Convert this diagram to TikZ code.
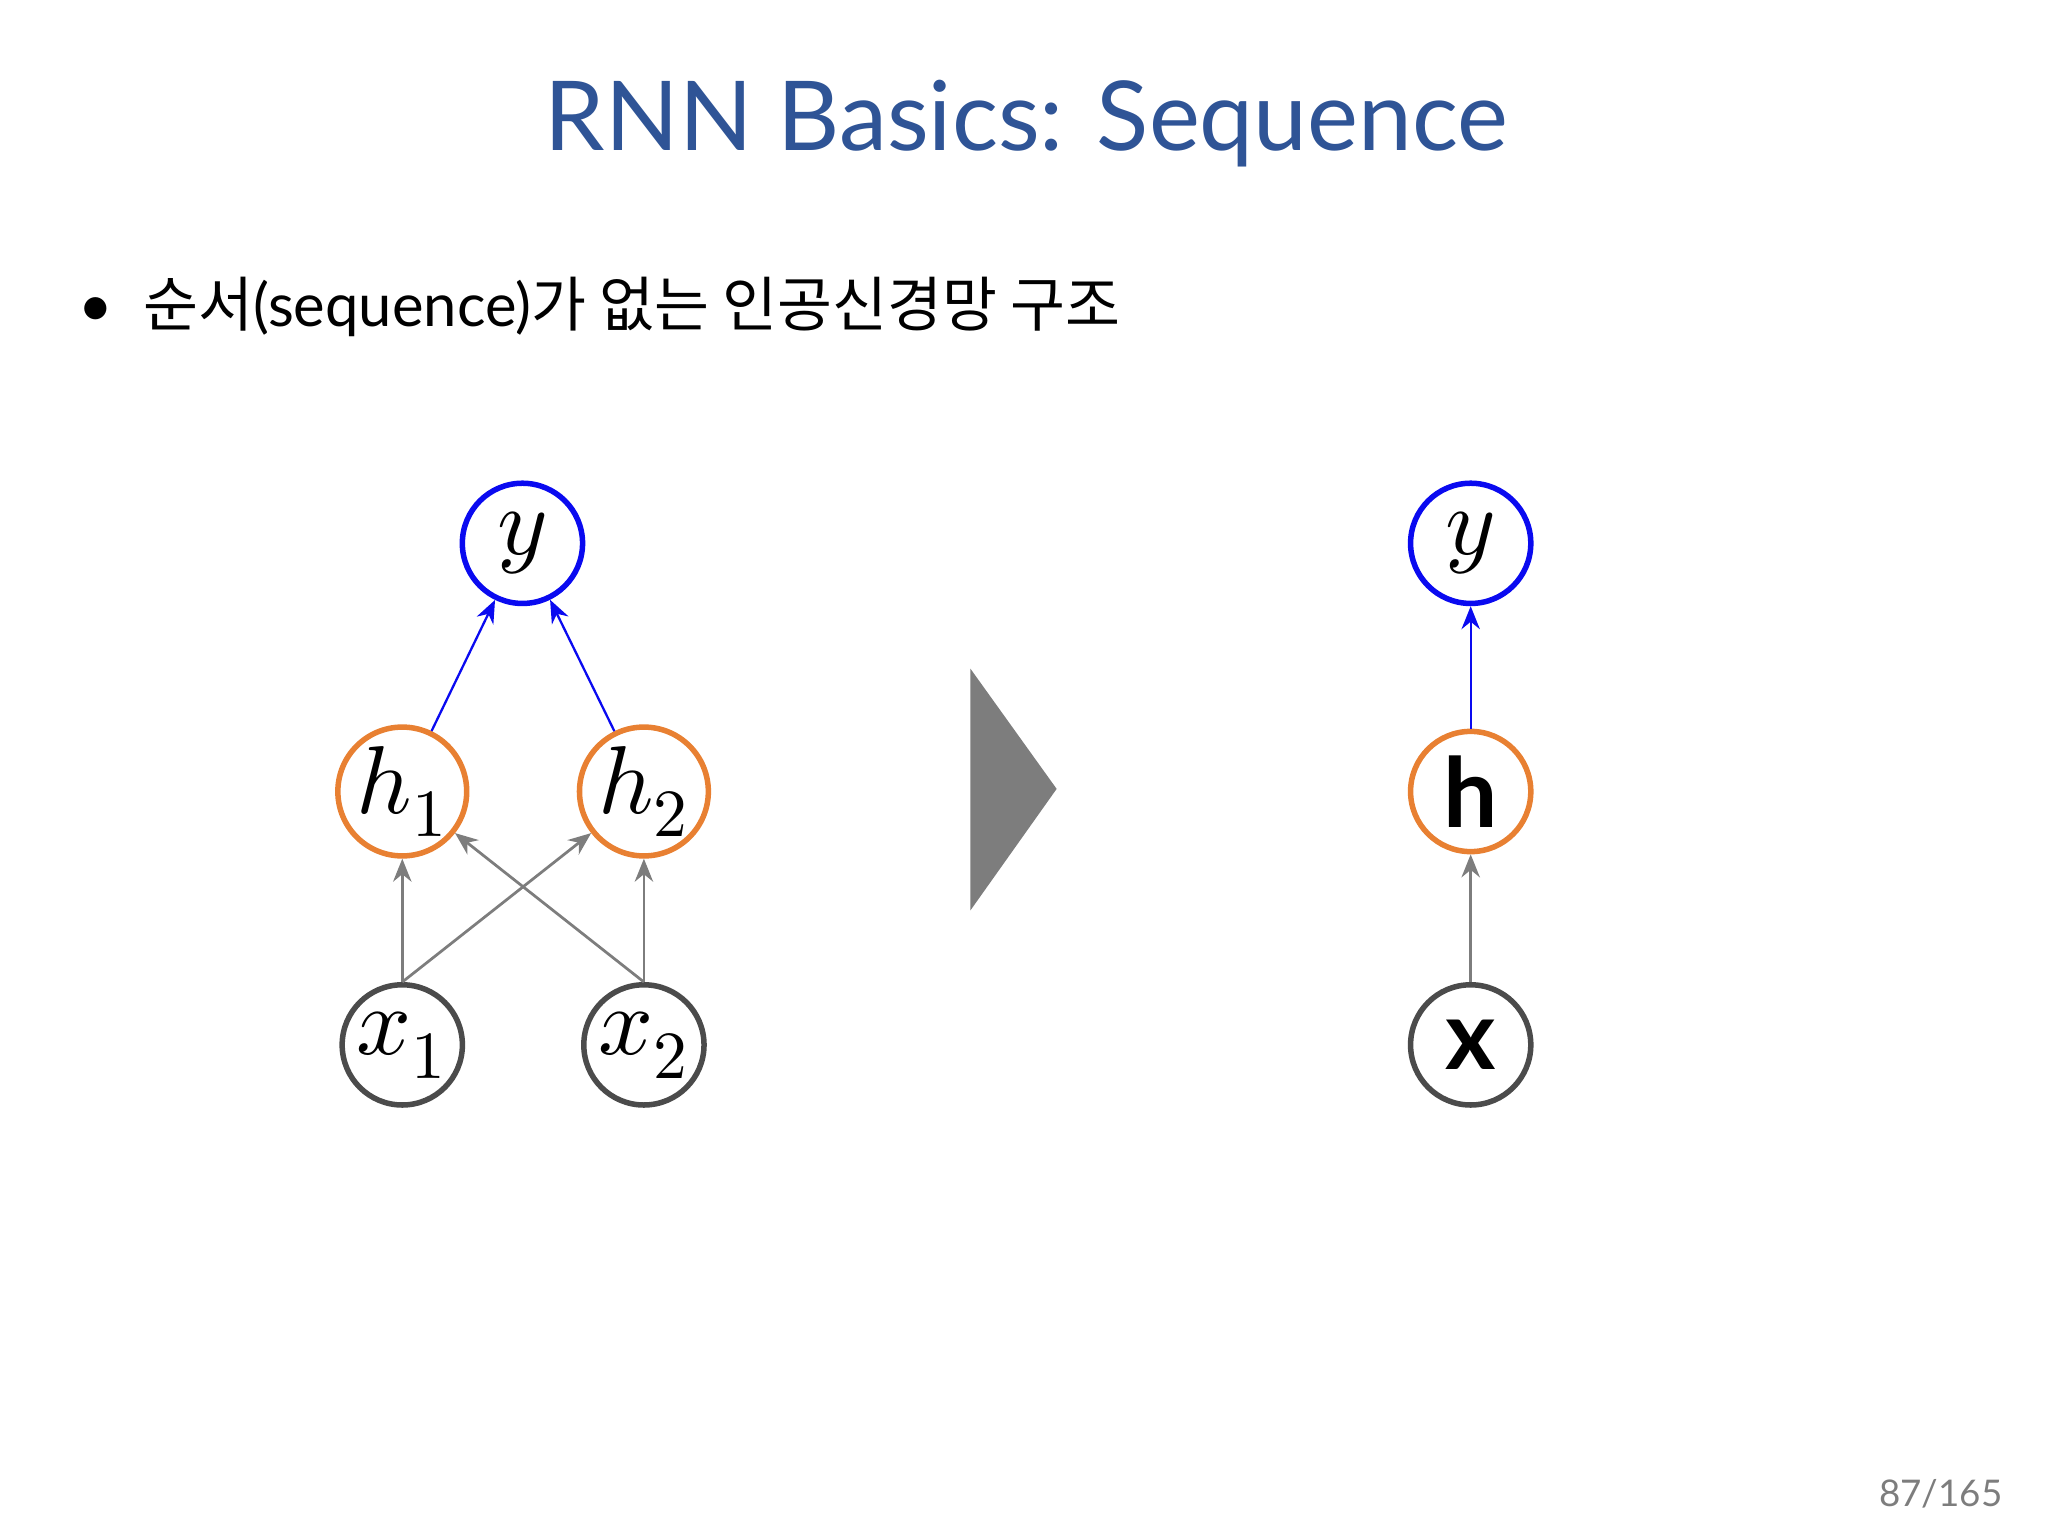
\documentclass[tikz,border=0pt]{standalone}
\usepackage{fontspec}
\setmainfont{Lato}
\newfontfamily\kr{Noto Sans CJK KR}
\usepackage{unicode-math}
\setmathfont{Latin Modern Math}
\definecolor{titleblue}{RGB}{47,84,150}
\definecolor{nodeblue}{RGB}{10,10,240}
\definecolor{nodeorange}{RGB}{232,128,50}
\definecolor{nodegray}{RGB}{75,75,75}
\definecolor{arrgray}{RGB}{125,125,125}
\tikzset{
  nd/.style={circle,minimum size=0.92cm,line width=1.2pt,inner sep=0pt,font=\fontsize{21}{24}\selectfont},
  yn/.style={nd,draw=nodeblue},
  hn/.style={nd,draw=nodeorange},
  xn/.style={nd,draw=nodegray},
  ba/.style={draw=nodeblue,line width=0.5pt,-{Stealth[length=5pt,width=4pt]}},
  ga/.style={draw=arrgray,line width=0.6pt,-{Stealth[length=5pt,width=4pt]}},
}
\usetikzlibrary{arrows.meta}
\begin{document}
\begin{tikzpicture}[x=0.01cm,y=-0.01cm]
\useasboundingbox (0,0) rectangle (1568,1176);
\node[text=titleblue,font=\fontsize{21}{24}\selectfont] (title) at (786,95) {RNN Basics: Sequence};
\node[anchor=west,font=\fontsize{13}{16}\selectfont] (bul) at (48,235) {•\hspace{0.5em}{\kr 순서}(sequence){\kr 가 없는 인공신경망 구조}};
\node[yn] (y1) at (400,416) {$y$};
\node[hn] (h1) at (308,606) {$h_1$};
\node[hn] (h2) at (493,606) {$h_2$};
\node[xn] (x1) at (308,800) {$x_1$};
\node[xn] (x2) at (493,800) {$x_2$};
\draw[ba] (h1) -- (y1);
\draw[ba] (h2) -- (y1);
\draw[ga] (x1) -- (h1);
\draw[ga] (x2) -- (h2);
\draw[ga] (x1.north) -- (h2);
\draw[ga] (x2.north) -- (h1);
\fill[arrgray] (743,512) -- (809,604) -- (743,697) -- cycle;
\node[yn] (yr) at (1126,416) {$y$};
\node[hn] (hr) at (1126,606) {$\mathbf{h}$};
\node[xn] (xr) at (1126,800) {$\mathbf{x}$};
\draw[ba] (hr) -- (yr);
\draw[ga] (xr) -- (hr);
\node[text=arrgray,font=\fontsize{8}{10}\selectfont] (pg) at (1486,1144) {87/165};
\end{tikzpicture}
\end{document}
